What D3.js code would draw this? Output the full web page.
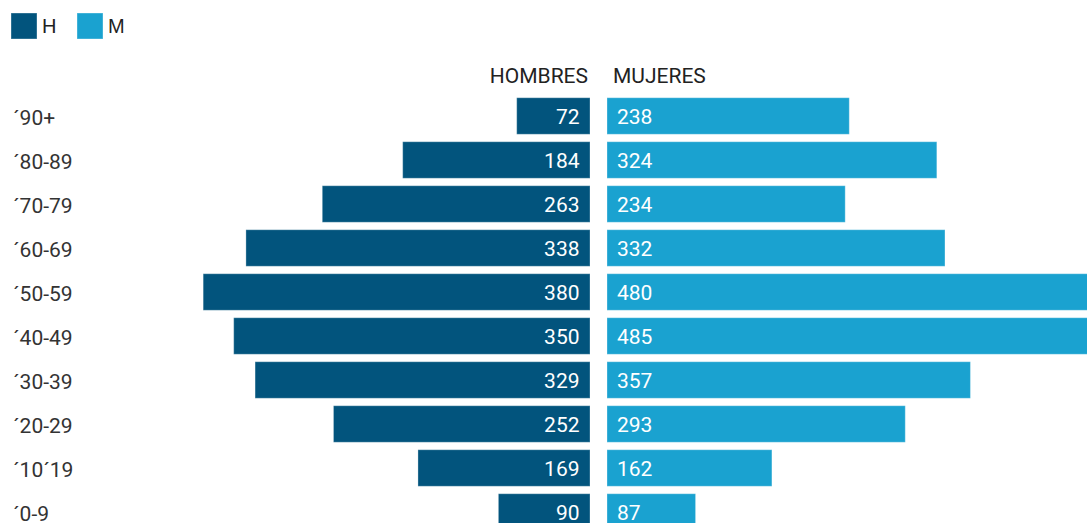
<!DOCTYPE html>
<html>
<head>
<meta charset="utf-8">
<script src="https://cdn.jsdelivr.net/npm/d3@7"></script>
<style>
  body { margin: 0; background: #fff; }
</style>
</head>
<body>
<div id="chart"></div>
<script>
const categories = ['´90+', '´80-89', '´70-79', '´60-69', '´50-59', '´40-49', '´30-39', '´20-29', '´10´19', '´0-9']
const hombres = [72, 184, 263, 338, 380, 350, 329, 252, 169, 90]
const mujeres = [238, 324, 234, 332, 480, 485, 357, 293, 162, 87]
const seriesNames = ['H', 'M']
const headers = ['HOMBRES', 'MUJERES']

const width = 1087
const height = 523
const darkBlue = '#02547d'
const lightBlue = '#1aa2d0'

const svg = d3
  .select('#chart')
  .append('svg')
  .attr('width', width)
  .attr('height', height)

const yPositionScale = d3
  .scaleBand()
  .domain(categories)
  .range([94, 534])
  .paddingInner(0.17)
  .paddingOuter(0.085)

// both sides share the same px-per-unit
const leftScale = d3.scaleLinear().domain([0, 500]).range([590, 590 - 509])
const rightScale = d3.scaleLinear().domain([0, 500]).range([607, 607 + 509])

const rows = categories.map((c, i) => ({ cat: c, h: hombres[i], m: mujeres[i] }))

// legend
const legend = svg.append('g')
seriesNames.forEach((name, i) => {
  const x = 11 + i * 66
  legend
    .append('rect')
    .attr('x', x)
    .attr('y', 13)
    .attr('width', 26)
    .attr('height', 26)
    .attr('fill', i === 0 ? darkBlue : lightBlue)
    .attr('stroke', 'rgba(255,255,255,0.35)')
  legend
    .append('text')
    .attr('x', x + 31)
    .attr('y', 33)
    .attr('font-family', 'Liberation Sans, Arial, sans-serif')
    .attr('font-size', 20)
    .attr('fill', '#222')
    .text(name)
})

// headers
svg
  .append('text')
  .attr('x', 588)
  .attr('y', 82.5)
  .attr('text-anchor', 'end')
  .attr('font-family', 'Roboto, sans-serif')
  .attr('font-size', 21)
  .attr('fill', '#222')
  .text(headers[0])

svg
  .append('text')
  .attr('x', 613)
  .attr('y', 82.5)
  .attr('font-family', 'Roboto, sans-serif')
  .attr('font-size', 21)
  .attr('fill', '#222')
  .text(headers[1])

// category labels
svg
  .selectAll('.cat-label')
  .data(rows)
  .enter()
  .append('text')
  .attr('class', 'cat-label')
  .attr('x', 13)
  .attr('y', d => yPositionScale(d.cat) + yPositionScale.bandwidth() / 2 + 8.5)
  .attr('font-family', 'Roboto, sans-serif')
  .attr('font-size', 21)
  .attr('fill', '#333')
  .text(d => d.cat)

// hombres bars
svg
  .selectAll('.bar-h')
  .data(rows)
  .enter()
  .append('rect')
  .attr('class', 'bar-h')
  .attr('x', d => leftScale(d.h))
  .attr('y', d => yPositionScale(d.cat))
  .attr('width', d => leftScale(0) - leftScale(d.h))
  .attr('height', yPositionScale.bandwidth())
  .attr('fill', darkBlue)
  .attr('stroke', 'rgba(255,255,255,0.3)')

// mujeres bars
svg
  .selectAll('.bar-m')
  .data(rows)
  .enter()
  .append('rect')
  .attr('class', 'bar-m')
  .attr('x', rightScale(0))
  .attr('y', d => yPositionScale(d.cat))
  .attr('width', d => rightScale(d.m) - rightScale(0))
  .attr('height', yPositionScale.bandwidth())
  .attr('fill', lightBlue)
  .attr('stroke', 'rgba(255,255,255,0.3)')

// value labels
svg
  .selectAll('.val-h')
  .data(rows)
  .enter()
  .append('text')
  .attr('class', 'val-h')
  .attr('x', leftScale(0) - 10.5)
  .attr('y', d => yPositionScale(d.cat) + yPositionScale.bandwidth() / 2 + 7.7)
  .attr('text-anchor', 'end')
  .attr('font-family', 'Roboto, sans-serif')
  .attr('font-size', 21)
  .attr('fill', '#fff')
  .text(d => d.h)

svg
  .selectAll('.val-m')
  .data(rows)
  .enter()
  .append('text')
  .attr('class', 'val-m')
  .attr('x', rightScale(0) + 10)
  .attr('y', d => yPositionScale(d.cat) + yPositionScale.bandwidth() / 2 + 7.7)
  .attr('font-family', 'Roboto, sans-serif')
  .attr('font-size', 21)
  .attr('fill', '#fff')
  .text(d => d.m)
</script>
</body>
</html>
